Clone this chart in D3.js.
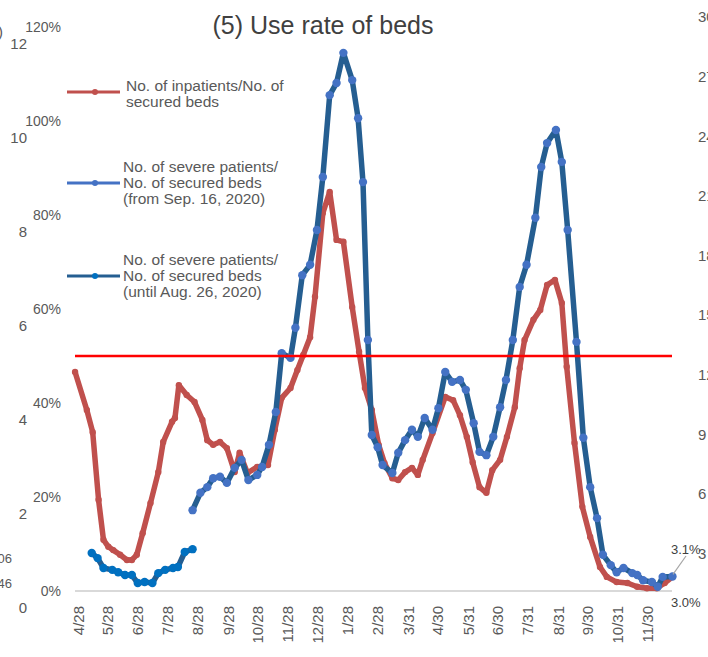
<!DOCTYPE html>
<html>
<head>
<meta charset="utf-8">
<script src="https://cdn.jsdelivr.net/npm/d3@7"></script>
<style>
  body { margin: 0; background: #fff; }
  svg { display: block; font-family: "Liberation Sans", Arial, sans-serif; }
  .tick line { display: none; }
</style>
</head>
<body>
<svg id="chart" width="708" height="657"></svg>
<script>
// data (percent of secured beds)
const redDates = ["2020-04-25","2020-05-07","2020-05-13","2020-05-19","2020-05-24","2020-05-29","2020-06-03","2020-06-10","2020-06-17","2020-06-22",
  "2020-06-27","2020-07-03","2020-07-11","2020-07-19","2020-07-24","2020-08-02","2020-08-05","2020-08-09","2020-08-17","2020-08-25",
  "2020-09-02","2020-09-07","2020-09-13","2020-09-20","2020-09-27","2020-10-05","2020-10-10","2020-10-18","2020-10-28","2020-11-08",
  "2020-11-15","2020-11-22","2020-12-01","2020-12-08","2020-12-14","2020-12-21","2020-12-26","2021-01-03","2021-01-10","2021-01-17",
  "2021-01-24","2021-02-02","2021-02-09","2021-02-15","2021-02-22","2021-03-01","2021-03-07","2021-03-15","2021-03-21","2021-03-28",
  "2021-04-04","2021-04-10","2021-04-15","2021-04-25","2021-05-08","2021-05-16","2021-05-23","2021-05-30","2021-06-05","2021-06-12",
  "2021-06-19","2021-06-25","2021-07-03","2021-07-10","2021-07-18","2021-07-23","2021-07-28","2021-08-06","2021-08-13","2021-08-20",
  "2021-08-28","2021-09-04","2021-09-09","2021-09-17","2021-09-25","2021-10-03","2021-10-13","2021-10-20","2021-10-30","2021-11-10",
  "2021-11-20","2021-11-30","2021-12-10","2021-12-18","2021-12-26"];
const redValues = [46.6, 38.5, 33.8, 19.4, 10.9, 9.4, 8.7, 7.7, 6.6, 6.6,
  7.7, 12.3, 18.7, 25.3, 31.7, 36.0, 36.8, 43.8, 41.7, 40.2,
  36.4, 32.1, 31.1, 31.7, 30.4, 25.3, 29.4, 25.1, 26.4, 26.8,
  34.3, 41.1, 43.2, 47.0, 50.2, 54.0, 62.6, 80.4, 84.9, 74.7,
  74.3, 60.4, 50.9, 43.2, 38.5, 31.1, 27.2, 24.0, 23.6, 25.3,
  26.2, 24.7, 27.9, 33.6, 41.3, 40.6, 37.4, 32.8, 27.4, 22.1,
  20.9, 25.7, 27.9, 32.8, 39.1, 47.4, 53.4, 57.7, 59.8, 65.1,
  66.2, 61.3, 47.7, 31.5, 17.9, 11.5, 5.1, 3.0, 1.9, 1.7,
  0.9, 0.6, 0.6, 1.7, 3.0];

const blueDates = ["2020-08-23","2020-08-31","2020-09-07","2020-09-13","2020-09-20","2020-09-27","2020-10-05","2020-10-12","2020-10-19","2020-10-28",
  "2020-11-02","2020-11-09","2020-11-16","2020-11-22","2020-12-01","2020-12-06","2020-12-13","2020-12-21","2020-12-28","2021-01-03",
  "2021-01-10","2021-01-17","2021-01-24","2021-02-02","2021-02-08","2021-02-13","2021-02-18","2021-02-22","2021-02-28","2021-03-05",
  "2021-03-15","2021-03-21","2021-03-28","2021-04-04","2021-04-10","2021-04-17","2021-04-25","2021-05-01","2021-05-08","2021-05-15",
  "2021-05-23","2021-05-29","2021-06-06","2021-06-12","2021-06-19","2021-06-26","2021-07-03","2021-07-09","2021-07-16","2021-07-23",
  "2021-07-30","2021-08-08","2021-08-14","2021-08-20","2021-08-29","2021-09-04","2021-09-10","2021-09-19","2021-09-26","2021-10-03",
  "2021-10-10","2021-10-16","2021-10-24","2021-10-30","2021-11-06","2021-11-15","2021-11-20","2021-11-26","2021-12-05","2021-12-11",
  "2021-12-16","2021-12-26"];
const blueValues = [17.2, 20.9, 22.1, 24.0, 24.3, 23.0, 26.2, 27.9, 23.6, 24.7,
  26.4, 31.1, 38.1, 50.6, 49.6, 56.0, 67.2, 69.4, 76.8, 88.1,
  105.5, 108.1, 114.5, 108.7, 100.6, 87.0, 53.4, 33.2, 30.6, 26.8,
  25.1, 29.4, 32.1, 34.3, 32.8, 36.8, 34.3, 38.9, 46.6, 44.5,
  44.9, 42.8, 35.7, 29.6, 28.9, 32.8, 39.1, 44.9, 53.4, 64.7,
  69.4, 79.4, 90.2, 95.3, 98.1, 91.3, 76.8, 53.0, 32.6, 22.1,
  15.5, 7.7, 5.5, 4.0, 4.9, 3.8, 3.4, 2.3, 1.9, 0.9,
  3.0, 3.1];

const earlyDates = ["2020-05-12","2020-05-18","2020-05-24","2020-06-02","2020-06-08","2020-06-15","2020-06-22","2020-06-28",
  "2020-07-05","2020-07-13","2020-07-19","2020-07-26","2020-08-03","2020-08-08","2020-08-15","2020-08-23"];
const earlyValues = [8.1, 7.0, 4.9, 4.5, 4.0, 3.4, 3.4, 1.7, 1.9, 1.7, 3.8, 4.5, 4.9, 5.1, 8.3, 8.9];

const tickDates = ["2020-04-28","2020-05-28","2020-06-28","2020-07-28","2020-08-28","2020-09-28","2020-10-28","2020-11-28","2020-12-28",
  "2021-01-28","2021-02-28","2021-03-31","2021-04-30","2021-05-31","2021-06-30","2021-07-31","2021-08-31","2021-09-30","2021-10-31","2021-11-30"];
const tickLabels = ["4/28","5/28","6/28","7/28","8/28","9/28","10/28","11/28","12/28","1/28","2/28","3/31","4/30","5/31","6/30","7/31","8/31","9/30","10/31","11/30"];

const pctTicks = [0, 20, 40, 60, 80, 100, 120];
const outerTicks = [0, 2, 4, 6, 8, 10, 12];
const rightTicks = [3, 6, 9, 12, 15, 18, 21, 24, 27, 30];
const threshold = 50;

const legendItems = [
  { lines: ["No. of inpatients/No. of", "secured beds"], stroke: "#c0504d", dot: "#c0504d" },
  { lines: ["No. of severe patients/", "No. of secured beds", "(from Sep. 16, 2020)"], stroke: "#4472c4", dot: "#4472c4" },
  { lines: ["No. of severe patients/", "No. of secured beds", "(until Aug. 26, 2020)"], stroke: "#255e91", dot: "#0070c0" }
];

const parse = d3.timeParse("%Y-%m-%d");
const svg = d3.select("#chart");

const x = d3.scaleTime()
  .domain([parse("2020-04-28"), parse("2021-11-30")])
  .range([78, 647]);
const y = d3.scaleLinear().domain([0, 120]).range([591, 27]);
const yOuter = d3.scaleLinear().domain([0, 12]).range([608, 44]);
const yRight = d3.scaleLinear().domain([0, 30]).range([613, 17]);

// title
svg.append("text")
  .attr("x", 323).attr("y", 34)
  .attr("text-anchor", "middle")
  .attr("font-size", 25)
  .attr("fill", "#404040")
  .text("(5) Use rate of beds");

// outer (cut off) left axis
const gOuter = svg.append("g")
  .attr("transform", "translate(27,0)")
  .call(d3.axisLeft(yOuter).tickValues(outerTicks).tickSize(0).tickPadding(0));
gOuter.select(".domain").remove();
gOuter.selectAll("text").attr("font-size", 15).attr("fill", "#595959").attr("font-family", "Liberation Sans");
svg.append("text").attr("x", -2).attr("y", 37).attr("font-size", 15).attr("fill", "#595959").text(")");
svg.append("text").attr("x", 12).attr("y", 563).attr("text-anchor", "end").attr("font-size", 13).attr("fill", "#595959").text("06");
svg.append("text").attr("x", 12).attr("y", 588).attr("text-anchor", "end").attr("font-size", 13).attr("fill", "#595959").text("46");

// percent axis
const gPct = svg.append("g")
  .attr("transform", "translate(61,0)")
  .call(d3.axisLeft(y).tickValues(pctTicks).tickFormat(d => d + "%").tickSize(0).tickPadding(0));
gPct.select(".domain").remove();
gPct.selectAll("text").attr("font-size", 14).attr("fill", "#595959").attr("font-family", "Liberation Sans");

// right axis (cut off by the crop)
const gRight = svg.append("g")
  .attr("transform", "translate(698,0)")
  .call(d3.axisRight(yRight).tickValues(rightTicks).tickSize(0).tickPadding(0));
gRight.select(".domain").remove();
gRight.selectAll("text").attr("font-size", 15).attr("fill", "#595959").attr("font-family", "Liberation Sans");

// x axis
const gx = svg.append("g")
  .attr("transform", "translate(0,591)")
  .call(d3.axisBottom(x).tickValues(tickDates.map(parse))
    .tickFormat((d, i) => tickLabels[i]).tickSize(0).tickPadding(0));
gx.select(".domain").remove();
gx.selectAll("text")
  .attr("font-size", 15)
  .attr("fill", "#595959")
  .attr("font-family", "Liberation Sans")
  .attr("text-anchor", "end")
  .attr("transform", "translate(0,15) rotate(-90)")
  .attr("dy", "0.35em")
  .attr("y", 0);

// baseline
svg.append("line")
  .attr("x1", 75).attr("x2", 672)
  .attr("y1", y(0)).attr("y2", y(0))
  .attr("stroke", "#d9d9d9").attr("stroke-width", 2);

// series
function series(dates, values) {
  return dates.map((d, i) => ({ date: parse(d), value: values[i] }));
}
const line = d3.line().x(d => x(d.date)).y(d => y(d.value));

function drawSeries(data, stroke, dot, r) {
  const g = svg.append("g");
  g.append("path")
    .datum(data)
    .attr("fill", "none")
    .attr("stroke", stroke)
    .attr("stroke-width", 5.5)
    .attr("stroke-linejoin", "round")
    .attr("d", line);
  g.selectAll("circle")
    .data(data)
    .join("circle")
    .attr("cx", d => x(d.date))
    .attr("cy", d => y(d.value))
    .attr("r", r)
    .attr("fill", dot);
}

drawSeries(series(redDates, redValues), "#c0504d", "#c0504d", 3.2);
drawSeries(series(earlyDates, earlyValues), "#255e91", "#0070c0", 4.2);
drawSeries(series(blueDates, blueValues), "#255e91", "#4472c4", 4.2);

// 50% line
svg.append("line")
  .attr("x1", 75).attr("x2", 672)
  .attr("y1", y(threshold)).attr("y2", y(threshold))
  .attr("stroke", "#ff0000").attr("stroke-width", 2.5);

// end labels
const lastBlue = blueValues[blueValues.length - 1];
const lastRed = redValues[redValues.length - 1];
svg.append("line")
  .attr("x1", 673).attr("y1", y(lastBlue) - 2)
  .attr("x2", 686).attr("y2", 556)
  .attr("stroke", "#a6a6a6").attr("stroke-width", 1.2);
svg.append("text").attr("x", 671).attr("y", 554).attr("font-size", 13).attr("fill", "#404040")
  .text(lastBlue.toFixed(1) + "%");
svg.append("text").attr("x", 671).attr("y", 607).attr("font-size", 13).attr("fill", "#404040")
  .text(lastRed.toFixed(1) + "%");

// legend
legendItems.forEach((item, i) => {
  const ly = [92, 183, 276][i];
  const g = svg.append("g");
  g.append("line").attr("x1", 67).attr("x2", 120).attr("y1", ly).attr("y2", ly)
    .attr("stroke", item.stroke).attr("stroke-width", 3);
  g.append("circle").attr("cx", 95).attr("cy", ly).attr("r", 3).attr("fill", item.dot);
  const n = item.lines.length;
  const tx = i === 0 ? 126 : 123;
  const t = g.append("text")
    .attr("x", tx)
    .attr("font-size", 15.5)
    .attr("fill", "#595959");
  item.lines.forEach((s, k) => {
    t.append("tspan")
      .attr("x", tx)
      .attr("y", ly + (k - (n - 1) / 2) * 16 + 5 + (i === 0 ? 2 : 0))
      .text(s);
  });
});
</script>
</body>
</html>
